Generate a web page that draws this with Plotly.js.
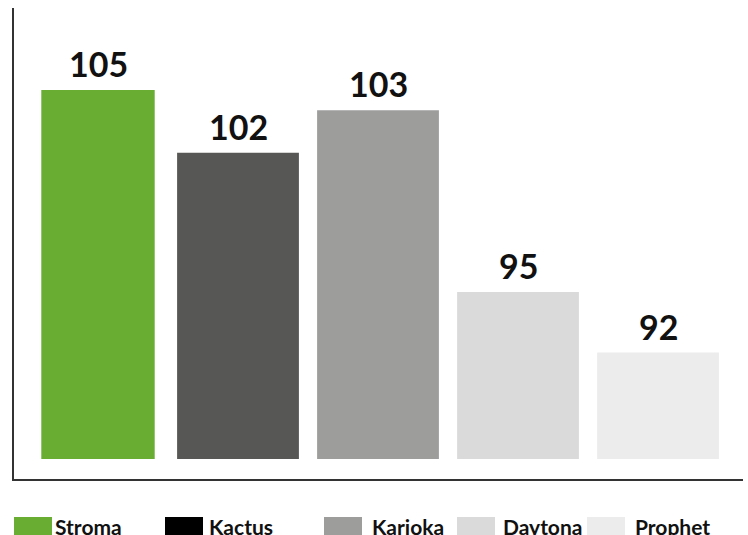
<!DOCTYPE html>
<html>
<head>
<meta charset="utf-8">
<script src="https://cdn.plot.ly/plotly-3.0.1.min.js"></script>
<style>html,body{margin:0;padding:0;background:#fff;}#chart{width:748px;height:535px;}</style>
</head>
<body>
<div id="chart"></div>
<script>
// Data
const categories = ["Stroma", "Kactus", "Karioka", "Daytona", "Prophet"];
const valueLabels = [105, 102, 103, 95, 92];          // printed labels
const barTops = [105, 101.9, 104, 95, 92];            // bar heights as drawn
const barColors = ["#69ad33", "#575756", "#9d9d9c", "#dadada", "#ececec"];
const legendColors = ["#69ad33", "#000000", "#9d9d9c", "#dadada", "#ececec"];

// Layout constants
const BASE = 86.73;
const W = 748, H = 535;
const M = {l: 14, r: 5, t: 8, b: 56};
const plotW = W - M.l - M.r, plotH = H - M.t - M.b;
const legendPx = [14, 165, 324, 457, 587];   // swatch left edges (px)
const legendTextGap = [1, 4, 8, 6, 8];
const FONT = "Lato, 'Open Sans', sans-serif";

const traces = categories.map((c, i) => ({
  type: "bar",
  x: [c],
  y: [barTops[i] - BASE],
  base: [BASE],
  width: i === 0 ? 0.81 : 0.87,
  marker: {color: barColors[i], line: {width: 0}},
  name: c,
  hoverinfo: "skip",
  showlegend: false
}));

const px2x = p => (p - M.l) / plotW;
const py2y = p => (H - M.b - p) / plotH;

const annotations = categories.map((c, i) => ({
  x: c, y: barTops[i], xref: "x", yref: "y",
  text: "<b>" + valueLabels[i] + "</b>",
  showarrow: false, xanchor: "center", yanchor: "bottom",
  yshift: 4,
  font: {family: FONT, size: 34, color: "#111"}
}));

const shapes = [];
categories.forEach((c, i) => {
  shapes.push({
    type: "rect", xref: "paper", yref: "paper",
    x0: px2x(legendPx[i]), x1: px2x(legendPx[i] + 38),
    y0: py2y(517), y1: py2y(555),
    fillcolor: legendColors[i], line: {width: 0}, layer: "above"
  });
  annotations.push({
    x: px2x(legendPx[i] + 38 + legendTextGap[i]), y: py2y(512),
    xref: "paper", yref: "paper", xanchor: "left", yanchor: "top",
    text: "<b>" + c + "</b>", showarrow: false,
    font: {family: FONT, size: 21, color: "#111"}
  });
});

const layout = {
  width: W, height: H,
  margin: M,
  paper_bgcolor: "#fff", plot_bgcolor: "#fff",
  barmode: "overlay",
  showlegend: false,
  xaxis: {
    type: "category", range: [-0.6, 4.607],
    showline: true, linecolor: "#333", linewidth: 2,
    showticklabels: false, ticks: "", showgrid: false, zeroline: false, fixedrange: true
  },
  yaxis: {
    range: [85.743, 109.06],
    showline: true, linecolor: "#333", linewidth: 2,
    showticklabels: false, ticks: "", showgrid: false, zeroline: false, fixedrange: true
  },
  annotations: annotations,
  shapes: shapes
};

Plotly.newPlot("chart", traces, layout, {displayModeBar: false, staticPlot: true});
</script>
</body>
</html>
